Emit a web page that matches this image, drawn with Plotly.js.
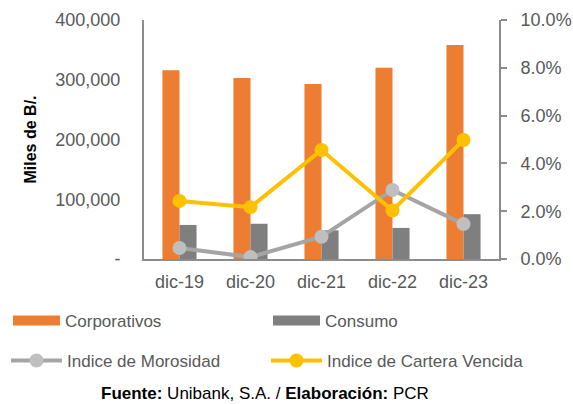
<!DOCTYPE html>
<html>
<head>
<meta charset="utf-8">
<script src="https://cdn.plot.ly/plotly-3.0.1.min.js"></script>
<style>html,body{margin:0;padding:0;background:#fff;}#chart{width:573px;height:404px;}</style>
</head>
<body>
<div id="chart"></div>
<script>
const categories = ["dic-19", "dic-20", "dic-21", "dic-22", "dic-23"];
const corporativos = [316000, 303000, 293000, 320000, 358000];
const consumo = [57000, 59000, 48000, 52000, 75000];
const morosidad = [0.0046, 0.0008, 0.0093, 0.0289, 0.0146];
const carteraVencida = [0.0243, 0.0217, 0.0456, 0.0203, 0.0498];
const leftTickVals = [0, 100000, 200000, 300000, 400000];
const leftTickText = ["-", "100,000", "200,000", "300,000", "400,000"];

const font = "Liberation Sans, Arial, sans-serif";
const tickColor = "#595959";
const axisColor = "#8C8C8C";
const orange = "#ED7D31", darkGray = "#7F7F7F";

const data = [
  {type: "bar", name: "Corporativos", x: categories, y: corporativos,
   marker: {color: orange}, showlegend: false},
  {type: "bar", name: "Consumo", x: categories, y: consumo,
   marker: {color: darkGray}, showlegend: false},
  // legend-only entries giving the wide rectangular swatches of the reference
  {type: "scatter", mode: "lines", name: "Corporativos", x: [null], y: [null],
   line: {color: orange, width: 10}, legend: "legend", hoverinfo: "skip"},
  {type: "scatter", mode: "lines", name: "Consumo", x: [null], y: [null],
   line: {color: darkGray, width: 10}, legend: "legend2", hoverinfo: "skip"},
  {type: "scatter", mode: "lines+markers", name: "Indice de Morosidad", x: categories, y: morosidad,
   yaxis: "y2", line: {color: "#A5A5A5", width: 4}, marker: {color: "#BFBFBF", size: 14}, legend: "legend3"},
  {type: "scatter", mode: "lines+markers", name: "Indice de Cartera Vencida", x: categories, y: carteraVencida,
   yaxis: "y2", line: {color: "#FFC000", width: 4}, marker: {color: "#FFC000", size: 14}, legend: "legend4"}
];

function legendAt(xPx, yTopPx, itemwidth) {
  return {
    orientation: "h", xref: "container", yref: "container",
    x: xPx / 573, xanchor: "left", y: 1 - yTopPx / 404, yanchor: "top",
    itemwidth: itemwidth, bgcolor: "rgba(0,0,0,0)",
    font: {family: font, size: 17, color: tickColor}
  };
}

const layout = {
  width: 573, height: 404,
  margin: {l: 144, r: 74, t: 20, b: 145},
  paper_bgcolor: "#fff", plot_bgcolor: "#fff",
  font: {family: font, size: 18, color: tickColor},
  barmode: "group", bargap: 0.52, bargroupgap: 0,
  showlegend: true,
  xaxis: {
    type: "category", range: [-0.5, 4.5], showline: true, linecolor: axisColor, linewidth: 2,
    ticks: "", showgrid: false, zeroline: false, ticklabelstandoff: 5, tickangle: 0,
    tickfont: {family: font, size: 18, color: tickColor}
  },
  yaxis: {
    range: [0, 400000], tickvals: leftTickVals, ticktext: leftTickText,
    showline: true, linecolor: axisColor, linewidth: 2, ticks: "",
    showgrid: false, zeroline: false, ticklabelstandoff: 18,
    tickfont: {family: font, size: 18, color: tickColor},
    title: {text: "<b>Miles de B/.</b>", font: {family: font, size: 16, color: "#000"}, standoff: 15}
  },
  yaxis2: {
    overlaying: "y", side: "right", range: [0, 0.1], dtick: 0.02, tickformat: ".1%",
    showline: true, linecolor: axisColor, linewidth: 2, ticks: "outside", ticklen: 6, tickwidth: 2, tickcolor: axisColor,
    showgrid: false, zeroline: false, ticklabelstandoff: 10,
    tickfont: {family: font, size: 18, color: tickColor}
  },
  legend: legendAt(8, 303, 47),
  legend2: legendAt(268, 303, 47),
  legend3: legendAt(6, 343, 51),
  legend4: legendAt(266, 343, 51),
  annotations: [{
    xref: "paper", yref: "paper", x: (264.7 - 144) / 355, y: (259 - 393) / 239, xanchor: "center", yanchor: "middle",
    showarrow: false, text: "<b>Fuente:</b> Unibank, S.A. / <b>Elaboración:</b> PCR",
    font: {family: font, size: 17, color: "#000"}
  }]
};

Plotly.newPlot("chart", data, layout, {displayModeBar: false, staticPlot: true});
</script>
</body>
</html>
